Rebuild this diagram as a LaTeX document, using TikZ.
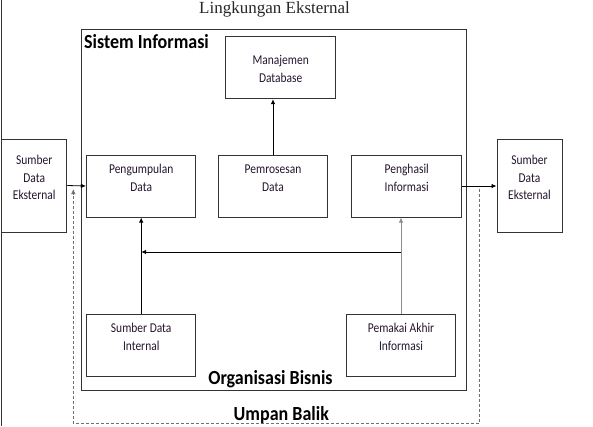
\documentclass[tikz,border=0pt]{standalone}
\usepackage{fontspec}
\usepackage{xcolor}
\usetikzlibrary{arrows.meta}
\setmainfont{Liberation Serif}
\newfontfamily\kotakfont[FakeStretch=0.85]{Carlito}
\newfontfamily\tebalfont[FakeStretch=0.9]{Carlito}
\definecolor{garis}{HTML}{333333}
\definecolor{teksungu}{HTML}{24152E}
\definecolor{garisabu}{HTML}{8C8C8C}
\definecolor{balikabu}{HTML}{707070}
\tikzset{
  kotak/.style={
    rectangle,
    draw=garis,
    line width=1pt,
    inner sep=0pt,
    minimum width=109.5pt,
    minimum height=62pt,
    font=\kotakfont\fontsize{13.5}{17.7}\selectfont,
    text=teksungu,
    align=center,
    text height=36.2pt,
    text depth=25.8pt
  },
  sumber/.style={kotak, minimum width=65pt, minimum height=93pt, text height=60.7pt, text depth=32.3pt},
  judul/.style={font=\tebalfont\bfseries\fontsize{20}{24}\selectfont, inner sep=0pt, anchor=base},
  arus/.style={line width=0.8pt, -{Latex[length=5pt,width=4.5pt]}},
  umpan/.style={balikabu, line width=0.8pt, dash pattern=on 3pt off 2pt, -{Latex[length=5pt,width=4.5pt]}}
}

\begin{document}
\begin{tikzpicture}[x=1pt,y=-1pt]
\useasboundingbox (0,0) rectangle (593,426);

% --- Lingkungan eksternal ---
\node[font=\fontsize{17}{20}\selectfont, text=black!85, inner sep=0pt, anchor=base] (lingkungan) at (274.5,13.5) {Lingkungan Eksternal};
\draw[garis, line width=1pt] (1.5,0) -- (1.5,426);

\node[sumber] (sumberkiri) at (34.25,185.5) {Sumber\\Data\\Eksternal};
\node[sumber] (sumberkanan) at (529.5,185.5) {Sumber\\Data\\Eksternal};

% --- Organisasi bisnis / sistem informasi ---
\node[kotak, minimum width=385pt, minimum height=361pt, text height=0pt, text depth=0pt] (organisasi) at (274.2,209.5) {};
\node[judul, anchor=base west] (sistem) at (84,48.7) {Sistem Informasi};
\node[judul] (orgbisnis) at (270.5,384.3) {Organisasi Bisnis};

\node[kotak, minimum width=110pt, minimum height=62.4pt, text height=45.7pt, text depth=16.7pt] (manajemen) at (280.7,67.5) {Manajemen\\Database};
\node[kotak] (pengumpulan) at (141.2,186) {Pengumpulan\\Data};
\node[kotak] (pemrosesan) at (273,186) {Pemrosesan\\Data};
\node[kotak, minimum width=110pt] (penghasil) at (406.7,186) {Penghasil\\Informasi};

\node[kotak] (internal) at (141.2,345.2) {Sumber Data\\Internal};
\node[kotak] (pemakai) at (401,345.2) {Pemakai Akhir\\Informasi};

% --- Aliran data ---
\draw[arus] (sumberkiri.east) -- (pengumpulan.west);
\draw[arus] (penghasil.east) -- (penghasil.east -| sumberkanan.west);
\draw[arus] (pemrosesan.north) -- (pemrosesan.north |- manajemen.south);
\draw[arus] (internal.north) -- (pengumpulan.south);
\draw[arus, garisabu] (pemakai.north) -- (pemakai.north |- penghasil.south);

\coordinate (cabang) at (pemakai.north |- 0,252);
\coordinate (temu) at (internal.north |- 0,252);
\draw[arus] (cabang) -- (temu);

% --- Umpan balik ---
\coordinate (umpanawal) at (479,188.5);
\coordinate (umpanakhir) at (73.3,189);
\draw[umpan] (umpanawal) -- ++(0,234.8) -| (umpanakhir);
\node[judul] (umpanbalik) at (281.3,420) {Umpan Balik};

\end{tikzpicture}
\end{document}
